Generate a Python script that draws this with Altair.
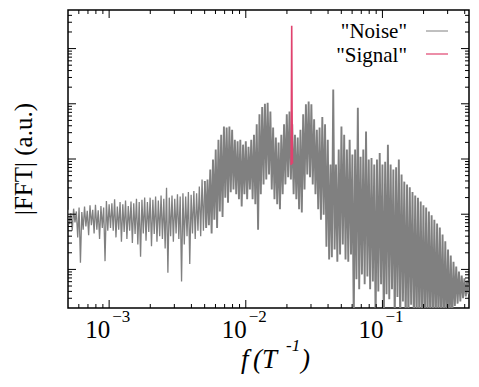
import altair as alt
import pandas as pd

# ---------------- data ----------------
# log10 frequency of the upper point of each min/max pair of the noise spectrum
noise_logf_hi = [
    -3.30, -3.28, -3.26, -3.24, -3.22, -3.20, -3.18, -3.16, -3.14, -3.12,
    -3.10, -3.08, -3.06, -3.04, -3.02, -3.00, -2.98, -2.96, -2.94, -2.92,
    -2.90, -2.88, -2.86, -2.84, -2.82, -2.80, -2.78, -2.76, -2.74, -2.72,
    -2.70, -2.68, -2.66, -2.64, -2.62, -2.60, -2.58, -2.56, -2.54, -2.52,
    -2.50, -2.48, -2.46, -2.44, -2.42, -2.40, -2.38, -2.36, -2.34, -2.32,
    -2.30, -2.28, -2.26, -2.24, -2.22, -2.20, -2.18, -2.16, -2.14, -2.12,
    -2.10, -2.08, -2.06, -2.04, -2.02, -2.00, -1.98, -1.96, -1.94, -1.92,
    -1.90, -1.88, -1.86, -1.84, -1.82, -1.80, -1.78, -1.76, -1.74, -1.72,
    -1.70, -1.68, -1.66, -1.64, -1.62, -1.60, -1.58, -1.56, -1.54, -1.52,
    -1.50, -1.48, -1.46, -1.44, -1.42, -1.40, -1.38, -1.36, -1.34, -1.32,
    -1.30, -1.28, -1.26, -1.24, -1.22, -1.20, -1.18, -1.16, -1.14, -1.12,
    -1.10, -1.08, -1.06, -1.04, -1.02, -1.00, -0.98, -0.96, -0.94, -0.92,
    -0.90, -0.88, -0.86, -0.84, -0.82, -0.80, -0.78, -0.76, -0.74, -0.72,
    -0.70, -0.68, -0.66, -0.64, -0.62, -0.60, -0.58, -0.56, -0.54, -0.52,
    -0.50, -0.48, -0.46, -0.44, -0.42, -0.40, -0.38, -0.36, -0.34, -0.32,
    -0.30,
]
# log10 frequency of the lower point of each pair
noise_logf_lo = [
    -3.29, -3.27, -3.25, -3.23, -3.21, -3.19, -3.17, -3.15, -3.13, -3.11,
    -3.09, -3.07, -3.05, -3.03, -3.01, -2.99, -2.97, -2.95, -2.93, -2.91,
    -2.89, -2.87, -2.85, -2.83, -2.81, -2.79, -2.77, -2.75, -2.73, -2.71,
    -2.69, -2.67, -2.65, -2.63, -2.61, -2.59, -2.57, -2.55, -2.53, -2.51,
    -2.49, -2.47, -2.45, -2.43, -2.41, -2.39, -2.37, -2.35, -2.33, -2.31,
    -2.29, -2.27, -2.25, -2.23, -2.21, -2.19, -2.17, -2.15, -2.13, -2.11,
    -2.09, -2.07, -2.05, -2.03, -2.01, -1.99, -1.97, -1.95, -1.93, -1.91,
    -1.89, -1.87, -1.85, -1.83, -1.81, -1.79, -1.77, -1.75, -1.73, -1.71,
    -1.69, -1.67, -1.65, -1.63, -1.61, -1.59, -1.57, -1.55, -1.53, -1.51,
    -1.49, -1.47, -1.45, -1.43, -1.41, -1.39, -1.37, -1.35, -1.33, -1.31,
    -1.29, -1.27, -1.25, -1.23, -1.21, -1.19, -1.17, -1.15, -1.13, -1.11,
    -1.09, -1.07, -1.05, -1.03, -1.01, -0.99, -0.97, -0.95, -0.93, -0.91,
    -0.89, -0.87, -0.85, -0.83, -0.81, -0.79, -0.77, -0.75, -0.73, -0.71,
    -0.69, -0.67, -0.65, -0.63, -0.61, -0.59, -0.57, -0.55, -0.53, -0.51,
    -0.49, -0.47, -0.45, -0.43, -0.41, -0.39, -0.37, -0.35, -0.33, -0.31,
    -0.29,
]
# log10 |FFT| : upper values
noise_hi = [
    -2.92, -2.98, -2.90, -2.95, -2.88, -2.96, -2.86, -2.94, -2.84, -2.92,
    -2.83, -2.93, -2.85, -2.88, -2.76, -2.82, -2.80, -2.73, -2.86, -2.78,
    -2.82, -2.75, -2.85, -2.77, -2.80, -2.72, -2.78, -2.74, -2.70, -2.78,
    -2.70, -2.74, -2.68, -2.75, -2.66, -2.72, -2.52, -2.70, -2.66, -2.72,
    -2.64, -2.68, -2.62, -2.68, -2.60, -2.65, -2.58, -2.62, -2.50, -2.37,
    -2.40, -2.37, -2.19, -2.01, -1.83, -1.65, -1.56, -1.41, -1.43, -1.41,
    -1.47, -1.65, -1.68, -1.65, -1.74, -1.68, -1.78, -1.65, -1.56, -1.37,
    -1.19, -1.06, -1.00, -0.98, -1.14, -1.43, -1.61, -1.70, -1.56, -1.37,
    -1.19, -1.14, -1.37, -1.56, -1.61, -1.47, -1.19, -1.01, -0.96, -1.01,
    -1.28, -1.47, -1.43, -1.24, -1.37, -1.65, -2.10, -0.74, -2.10, -1.83,
    -1.41, -1.56, -1.83, -1.65, -1.92, -1.83, -1.07, -1.96, -1.83, -1.50,
    -2.01, -1.98, -2.10, -2.01, -1.89, -2.10, -2.05, -1.74, -2.10, -2.19,
    -2.15, -2.01, -2.28, -2.41, -2.46, -2.51, -2.60, -2.66, -2.70, -2.77,
    -2.84, -2.88, -2.95, -3.02, -3.10, -3.17, -3.24, -3.37, -3.49, -3.64,
    -3.75, -3.86, -3.95, -4.04, -4.11, -4.16, -4.20, -4.24, -4.26, -4.27,
    -4.29,
]
# log10 |FFT| : lower values
noise_lo = [
    -3.18, -3.30, -3.15, -3.42, -3.88, -3.28, -3.22, -3.38, -3.20, -3.35,
    -3.28, -3.45, -3.25, -3.85, -3.30, -3.25, -3.30, -3.42, -3.28, -3.50,
    -3.32, -3.45, -3.30, -3.52, -3.36, -3.55, -3.77, -3.35, -3.48, -3.32,
    -3.58, -3.36, -3.50, -3.40, -3.45, -3.62, -4.06, -3.40, -3.50, -3.35,
    -3.45, -4.22, -3.55, -3.40, -3.90, -3.35, -3.45, -3.30, -3.40, -3.30,
    -3.25, -3.20, -3.35, -3.10, -3.25, -2.95, -3.05, -2.70, -2.79, -2.60,
    -2.55, -2.64, -2.73, -2.86, -2.64, -2.73, -2.55, -2.73, -2.82, -3.28,
    -2.64, -2.46, -2.37, -2.28, -2.55, -2.73, -2.82, -2.91, -2.64, -2.46,
    -2.33, -2.37, -2.64, -2.73, -2.91, -2.97, -2.55, -2.28, -2.33, -2.46,
    -2.64, -2.91, -3.10, -3.01, -3.59, -3.82, -3.78, -3.64, -3.86, -3.73,
    -3.55, -3.82, -3.86, -3.73, -5.00, -4.18, -4.36, -4.09, -4.27, -4.13,
    -4.36, -4.22, -5.00, -4.40, -4.27, -5.00, -4.45, -4.54, -4.36, -5.00,
    -4.50, -5.00, -4.58, -5.00, -5.00, -4.64, -5.00, -5.00, -5.00, -5.00,
    -5.00, -5.00, -5.00, -5.00, -5.00, -5.00, -5.00, -5.00, -5.00, -5.00,
    -5.00, -4.66, -4.62, -4.58, -4.52, -4.49, -4.45, -4.43, -4.42, -4.40,
    -4.38,
]

signal_f = [0.02145, 0.02155, 0.02168, 0.02182, 0.02195]
signal_v = [0.0078, 0.075, 2.6, 0.07, 0.0082]

x_major = [1e-3, 1e-2, 1e-1]
x_exponents = ["\u22123", "\u22122", "\u22121"]
y_major = [1e-4, 1e-3, 1e-2, 1e-1, 1.0]
minor_mult = [2, 3, 4, 5, 6, 7, 8, 9]

X_DOMAIN = [5e-4, 0.43]
Y_DOMAIN = [2e-5, 5.0]

GRAY = "#808080"
RED = "#e0426e"
FONT = "Liberation Serif, Times New Roman, serif"
DENSE_FROM = 100  # point index where the trace becomes dense (f ~ 5e-3)

# ---------------- tables ----------------
rows = []
n = 0
for lfh, hi, lfl, lo in zip(noise_logf_hi, noise_hi, noise_logf_lo, noise_lo):
    rows.append({"f": 10 ** lfh, "v": 10 ** hi, "o": n}); n += 1
    rows.append({"f": 10 ** lfl, "v": 10 ** lo, "o": n}); n += 1
noise_df = pd.DataFrame(rows)
sparse_df = noise_df[noise_df["o"] <= DENSE_FROM]
dense_df = noise_df[noise_df["o"] >= DENSE_FROM]
signal_df = pd.DataFrame({"f": signal_f, "v": signal_v, "o": list(range(len(signal_f)))})


def minors(decades, dom):
    out = []
    for d in decades:
        for m in minor_mult:
            v = d * m
            if dom[0] * 1.01 < v < dom[1] * 0.99:
                out.append(v)
    return out


x_minor = minors([1e-4, 1e-3, 1e-2, 1e-1], X_DOMAIN)
y_minor = minors([1e-5, 1e-4, 1e-3, 1e-2, 1e-1, 1.0], Y_DOMAIN)

W, H = 401, 298
xs = alt.Scale(type="log", domain=X_DOMAIN, nice=False)
ys = alt.Scale(type="log", domain=Y_DOMAIN, nice=False)


def trace(df, width, color):
    return alt.Chart(df).mark_line(color=color, strokeWidth=width, clip=True).encode(
        x=alt.X("f:Q", scale=xs, axis=None),
        y=alt.Y("v:Q", scale=ys, axis=None),
        order=alt.Order("o:Q"),
    )


noise_sparse = trace(sparse_df, 1.3, GRAY)
noise_dense = trace(dense_df, 1.9, GRAY)
signal = trace(signal_df, 1.6, RED)


def xticks(vals, length):
    df = pd.DataFrame({"t": vals})
    base = alt.Chart(df).mark_rule(color="black", strokeWidth=1)
    bot = base.encode(x=alt.X("t:Q", scale=xs, axis=None), y=alt.value(H), y2=alt.value(H - length))
    top = base.encode(x=alt.X("t:Q", scale=xs, axis=None), y=alt.value(0), y2=alt.value(length))
    return [bot, top]


def yticks(vals, length):
    df = pd.DataFrame({"t": vals})
    base = alt.Chart(df).mark_rule(color="black", strokeWidth=1)
    left = base.encode(y=alt.Y("t:Q", scale=ys, axis=None), x=alt.value(0), x2=alt.value(length))
    right = base.encode(y=alt.Y("t:Q", scale=ys, axis=None), x=alt.value(W), x2=alt.value(W - length))
    return [left, right]


ticks = xticks(x_major, 8) + xticks(x_minor, 4) + yticks(y_major, 8) + yticks(y_minor, 4)

lab_df = pd.DataFrame({"t": x_major, "e": x_exponents})
lab_base = alt.Chart(lab_df).mark_text(
    font=FONT, fontSize=25, align="right", baseline="alphabetic", dx=1, color="black"
).encode(x=alt.X("t:Q", scale=xs, axis=None), y=alt.value(328), text=alt.value("10"))
lab_exp = alt.Chart(lab_df).mark_text(
    font=FONT, fontSize=17, align="left", baseline="alphabetic", dx=3, color="black"
).encode(x=alt.X("t:Q", scale=xs, axis=None), y=alt.value(312), text="e:N")

one = pd.DataFrame({"a": [0]})


def txt(s, x, y, size, align="left", style="normal", angle=0, baseline="alphabetic"):
    kw = dict(font=FONT, fontSize=size, align=align, baseline=baseline, fontStyle=style, color="black")
    if angle:
        kw["angle"] = angle
    return alt.Chart(one).mark_text(**kw).encode(x=alt.value(x), y=alt.value(y), text=alt.value(s))


xtitle = [
    txt("f", 173, 358, 27, style="italic"),
    txt("(", 185, 358, 27, style="italic"),
    txt("T", 194, 358, 27, style="italic"),
    txt("-1", 218, 341, 17, style="italic"),
    txt(")", 233, 358, 27, style="italic"),
]
ytitle = txt("|FFT| (a.u.)", -44, 149, 25, align="center", angle=270, baseline="middle")

legend = [
    txt("\"Noise\"", 339, 28, 21, align="right"),
    txt("\"Signal\"", 339, 52, 21, align="right"),
    alt.Chart(one).mark_rule(color=GRAY, strokeWidth=1).encode(
        x=alt.value(358), x2=alt.value(380), y=alt.value(21)),
    alt.Chart(one).mark_rule(color=RED, strokeWidth=1.2).encode(
        x=alt.value(358), x2=alt.value(380), y=alt.value(44)),
]

chart = alt.layer(
    noise_sparse, noise_dense, signal, *ticks, lab_base, lab_exp, *xtitle, ytitle, *legend
).properties(
    width=W, height=H,
    autosize=alt.AutoSizeParams(type="none"),
    padding={"left": 60, "top": 2, "right": 1, "bottom": 67},
).configure_view(stroke="black", strokeWidth=1.5)

chart.save("out.html", embed_options={"renderer": "svg", "actions": False})
